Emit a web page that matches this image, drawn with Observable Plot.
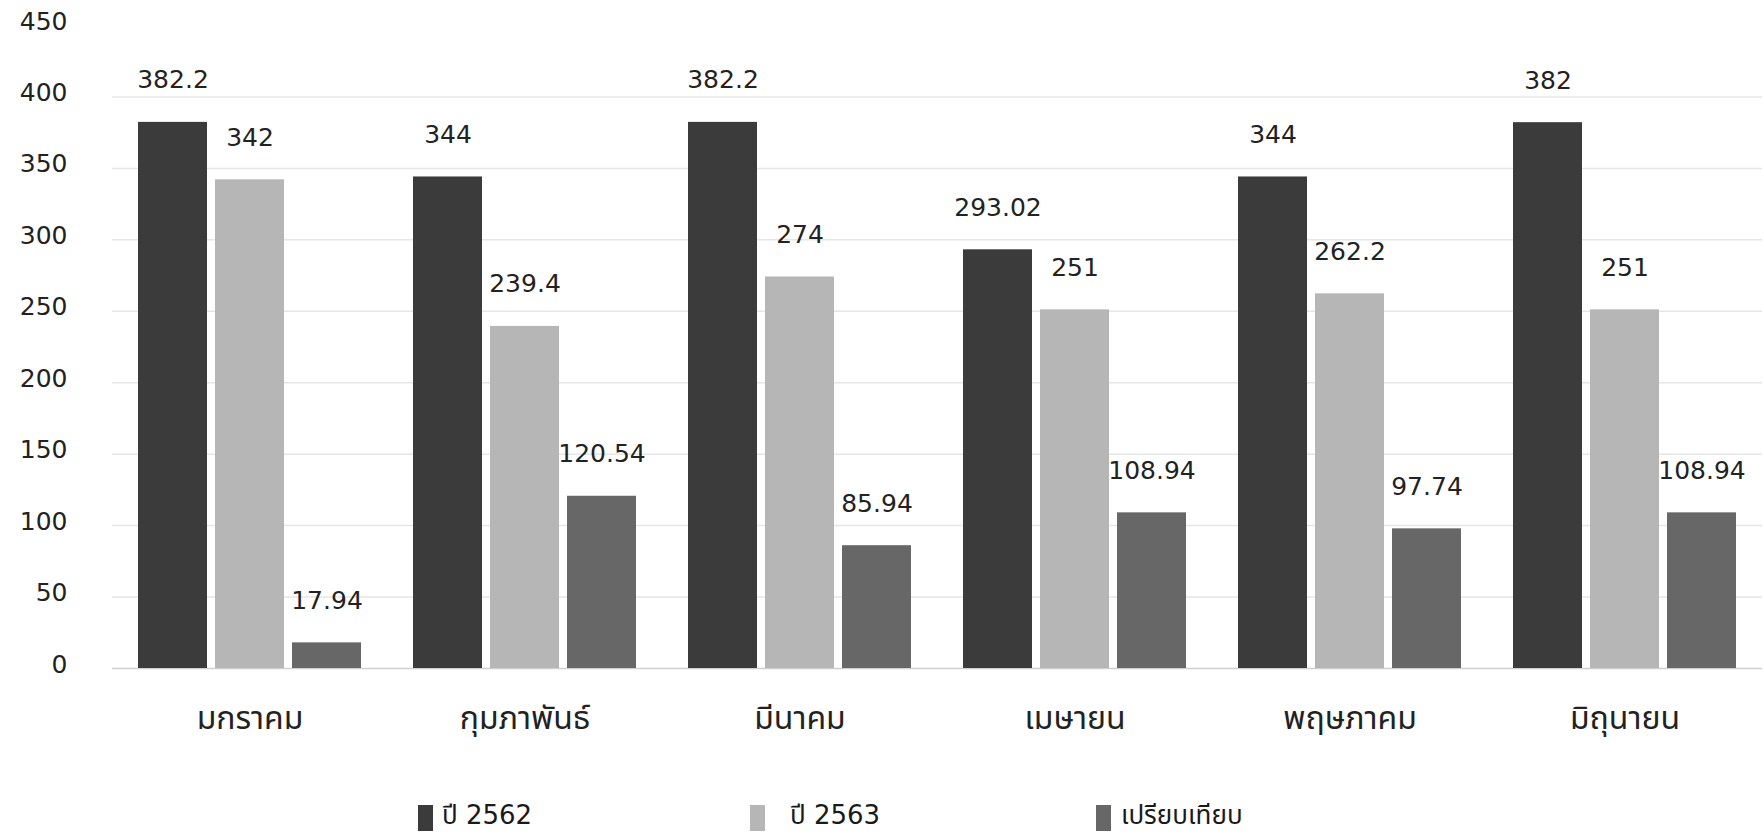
<!DOCTYPE html>
<html>
<head>
<meta charset="utf-8">
<script src="https://cdn.jsdelivr.net/npm/d3@7"></script>
<script src="https://cdn.jsdelivr.net/npm/@observablehq/plot@0.6"></script>
<style>
  html, body { margin: 0; padding: 0; background: #ffffff; }
  body { width: 1763px; height: 835px; overflow: hidden; font-family: "DejaVu Sans", "Noto Sans Thai", "Noto Sans", sans-serif; color: #1a1a1a; }
  #legend { position: relative; width: 1763px; height: 55px; }
  .sw { position: absolute; top: 25px; width: 15px; height: 26px; }
  .lt { position: absolute; top: 15px; font-size: 26px; line-height: 40px; white-space: nowrap; }
</style>
</head>
<body>
<div id="chart"></div>
<div id="legend"></div>
<script>
const months = ["มกราคม", "กุมภาพันธ์", "มีนาคม", "เมษายน", "พฤษภาคม", "มิถุนายน"];
const seriesNames = ["ปี 2562", "ปี 2563", "เปรียบเทียบ"];
const values2562 = [382.2, 344, 382.2, 293.02, 344, 382];
const values2563 = [342, 239.4, 274, 251, 262.2, 251];
const valuesCompare = [17.94, 120.54, 85.94, 108.94, 97.74, 108.94];
const seriesColors = ["#3b3b3b", "#b6b6b6", "#676767"];
const yTicks = [0, 50, 100, 150, 200, 250, 300, 350, 400, 450];
const gridValues = [50, 100, 150, 200, 250, 300, 350, 400];

const seriesValues = [values2562, values2563, valuesCompare];
const tables = seriesValues.map((vals, s) =>
  months.map((m, i) => ({ month: m, series: seriesNames[s], value: vals[i] }))
);

// layout of the three bars inside each month band
const barStep = 77, barW = 69;
const bandW = barStep * 2 + barW;
const offsets = [-barStep, 0, barStep];

const marks = [
  Plot.ruleY(gridValues, { stroke: "#e6e6e6", strokeWidth: 1.5 }),
  Plot.ruleY([0], { stroke: "#d0d0d0", strokeWidth: 1.5 })
];
tables.forEach((t, s) => {
  marks.push(Plot.barY(t, {
    x: "month", y: "value", fill: seriesColors[s],
    insetLeft: s * barStep, insetRight: bandW - barW - s * barStep
  }));
  marks.push(Plot.text(t, {
    x: "month", y: "value", text: d => String(d.value),
    dx: offsets[s], dy: -42, fontSize: 25, fill: "#222"
  }));
});
marks.push(Plot.axisY({ ticks: yTicks, tickSize: 0, tickPadding: 45, fontSize: 25, dy: -4, label: null, tickFormat: d => String(d), fill: "#222" }));
marks.push(Plot.axisX({ tickSize: 0, tickPadding: 38, fontSize: 32, label: null, fill: "#222" }));

const chart = Plot.plot({
  width: 1763,
  height: 780,
  marginLeft: 112,
  marginRight: 1,
  marginTop: 25,
  marginBottom: 112,
  style: { fontFamily: '"DejaVu Sans", "Noto Sans Thai", "Noto Sans", sans-serif', color: "#1a1a1a", background: "#ffffff" },
  x: { domain: months, paddingInner: 0.19, paddingOuter: 0.095 },
  y: { domain: [0, 450] },
  marks
});
document.getElementById("chart").appendChild(chart);

// legend below the chart
const legend = document.getElementById("legend");
const swLeft = [418, 750, 1096];
const txLeft = [442, 790, 1121];
seriesNames.forEach((name, s) => {
  const sw = document.createElement("div");
  sw.className = "sw";
  sw.style.left = swLeft[s] + "px";
  sw.style.background = seriesColors[s];
  legend.appendChild(sw);
  const tx = document.createElement("div");
  tx.className = "lt";
  tx.style.left = txLeft[s] + "px";
  tx.textContent = name;
  legend.appendChild(tx);
});
</script>
</body>
</html>
